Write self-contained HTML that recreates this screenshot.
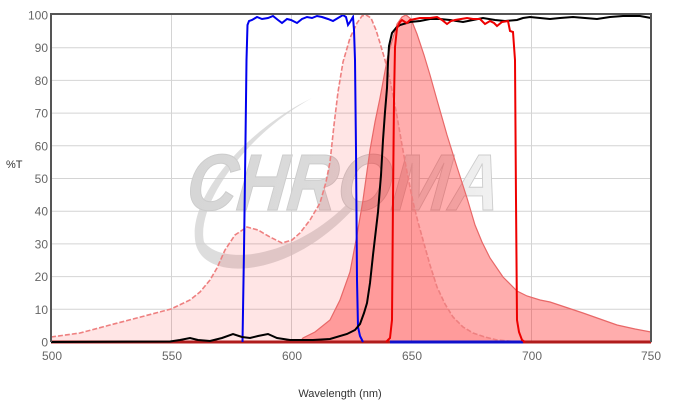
<!DOCTYPE html>
<html><head><meta charset="utf-8"><style>
html,body{margin:0;padding:0;background:#fff;}
svg{display:block;font-family:"Liberation Sans",Arial,sans-serif;}
</style></head><body>
<svg width="673" height="403" viewBox="0 0 673 403" xmlns="http://www.w3.org/2000/svg">
<defs>
<linearGradient id="wm" x1="0" y1="0" x2="1" y2="0">
<stop offset="0" stop-color="#d6d6d6"/><stop offset="0.5" stop-color="#dcdcdc"/><stop offset="1" stop-color="#f2f2f2"/>
</linearGradient>
</defs>
<rect width="673" height="403" fill="#fff"/>
<!-- grid -->
<g stroke="#d4d4d4" stroke-width="1">
<line x1="51" y1="47.7" x2="651" y2="47.7"/><line x1="51" y1="80.4" x2="651" y2="80.4"/>
<line x1="51" y1="113.1" x2="651" y2="113.1"/><line x1="51" y1="145.8" x2="651" y2="145.8"/>
<line x1="51" y1="178.5" x2="651" y2="178.5"/><line x1="51" y1="211.2" x2="651" y2="211.2"/>
<line x1="51" y1="243.9" x2="651" y2="243.9"/><line x1="51" y1="276.6" x2="651" y2="276.6"/>
<line x1="51" y1="309.3" x2="651" y2="309.3"/>
<line x1="171.5" y1="15" x2="171.5" y2="342"/><line x1="291.5" y1="15" x2="291.5" y2="342"/>
<line x1="411.5" y1="15" x2="411.5" y2="342"/><line x1="531.5" y1="15" x2="531.5" y2="342"/>
</g>
<!-- watermark -->
<path d="M312,98 C245,130 185,200 196,245 C206,282 290,280 356,206 L346,205 C292,258 222,266 204,242 C196,205 245,135 312,98 Z" fill="#cfcfcf" fill-opacity="0.7"/>
<text x="185" y="210" font-size="80" font-weight="bold" font-style="italic" textLength="313" lengthAdjust="spacingAndGlyphs" fill="url(#wm)" stroke="#cccccc" stroke-width="1" transform="skewX(-6) translate(22,0)">CHROMA</text>
<!-- excitation fill -->
<path d="M51,337 L80,333 L110,325 L133,319 L171,309 L190,300 L200,292 L210,280 L217,268 L225,250 L235,235 L247,227 L258,230 L270,237 L282,243 L292,240 L300,233 L310,220 L320,203 L326,182 L330,162 L334,125 L338,92 L343,62 L350,38 L357,23 L362,16 L366,15 L371,18 L376,30 L380,43 L385,60 L390,80 L397,116 L402,145 L407,172 L413,202 L418,222 L423,240 L430,265 L437,287 L445,304 L453,317 L463,327 L473,333 L485,337 L497,340 L520,342 L51,342 Z" fill="rgba(255,0,0,0.1)"/>
<!-- emission fill -->
<path d="M300,342 L303,338 L315,332 L330,320 L340,300 L350,272 L357,235 L363,200 L370,150 L375,122 L380,98 L388,55 L397,24 L402,17 L406,15 L411,19 L417,34 L424,55 L430,75 L437,100 L447,135 L457,167 L467,198 L475,225 L482,242 L490,258 L503,277 L517,291 L527,296 L540,300 L550,302 L565,307 L583,313 L600,319 L617,325 L635,329 L651,332 L651,342 Z" fill="rgba(255,0,0,0.32)" stroke="#e86868" stroke-width="1.2"/>
<!-- excitation outline dashed -->
<path d="M51,337 L80,333 L110,325 L133,319 L171,309 L190,300 L200,292 L210,280 L217,268 L225,250 L235,235 L247,227 L258,230 L270,237 L282,243 L292,240 L300,233 L310,220 L320,203 L326,182 L330,162 L334,125 L338,92 L343,62 L350,38 L357,23 L362,16 L366,15 L371,18 L376,30 L380,43 L385,60 L390,80 L397,116 L402,145 L407,172 L413,202 L418,222 L423,240 L430,265 L437,287 L445,304 L453,317 L463,327 L473,333 L485,337 L497,340 L520,342" fill="none" stroke="#ee8080" stroke-width="1.6" stroke-dasharray="5,2"/>
<!-- baseline -->
<line x1="51" y1="342" x2="651" y2="342" stroke="#b01c1c" stroke-width="3"/>
<line x1="390" y1="342" x2="523" y2="342" stroke="#1010cc" stroke-width="3"/>
<!-- blue filter -->
<path d="M242.5,342 L244,250 L245.5,140 L246.5,60 L247.5,25 L249,21 L252,20 L257,17 L262,19 L268,18 L273,16 L278,20 L282,23 L287,19 L291,20 L297,23 L302,19 L307,17 L312,18 L317,16 L322,17 L328,19 L333,21 L338,18 L343,15 L346,17 L348,25 L350,22 L353,17 L354,30 L355,60 L356,150 L357,280 L358,327 L360,336 L363,342" fill="none" stroke="#0000ee" stroke-width="2"/>
<!-- black -->
<path d="M51,342 L170,341.5 L180,340 L190,338 L198,340 L210,341 L222,338 L233,334 L242,337 L250,338 L258,336 L268,334 L277,338 L290,340 L313,340 L330,339 L347,334 L355,330 L360,324 L364,313 L367,303 L370,283 L373,255 L378,212 L381,175 L383,140 L385,112 L387,88 L388,62 L389,46 L392,33 L396,28 L400,25 L410,22 L420,21 L430,19 L440,19 L450,20 L463,22 L473,20 L483,18 L495,20 L505,21 L517,20 L523,18 L530,17 L540,18 L550,19 L560,18 L573,17 L585,18 L597,19 L610,17 L623,16 L640,16 L651,18" fill="none" stroke="#000" stroke-width="2"/>
<!-- red filter -->
<path d="M386,342 L390,338 L392,320 L393,200 L394,100 L395,47 L397,28 L400,22 L402,20 L405,22 L407,23 L410,20 L415,19 L420,18 L425,18 L430,18 L437,17 L442,20 L447,24 L451,21 L455,20 L461,19 L467,18 L473,19 L480,19 L485,24 L490,21 L494,23 L497,26 L502,22 L508,21 L510,31 L513,32 L515,60 L516,200 L517,320 L519,332 L522,340 L525,342" fill="none" stroke="#ee0000" stroke-width="2"/>
<!-- plot border -->
<path d="M51,342 L51,14 L651,14 L651,342" fill="none" stroke="#555" stroke-width="2"/>
<!-- y labels -->
<g font-size="12" fill="#666" text-anchor="end">
<text x="48" y="19.5">100</text><text x="48" y="52.2">90</text><text x="48" y="84.9">80</text>
<text x="48" y="117.6">70</text><text x="48" y="150.3">60</text><text x="48" y="183">50</text>
<text x="48" y="215.7">40</text><text x="48" y="248.4">30</text><text x="48" y="281.1">20</text>
<text x="48" y="313.8">10</text><text x="48" y="346.5">0</text>
</g>
<!-- x labels -->
<g font-size="12" fill="#666" text-anchor="middle">
<text x="52" y="360">500</text><text x="172" y="360">550</text><text x="292" y="360">600</text>
<text x="412" y="360">650</text><text x="532" y="360">700</text><text x="651" y="360">750</text>
</g>
<text x="6" y="168" font-size="11" fill="#333">%T</text>
<text x="340" y="397" font-size="11" fill="#333" text-anchor="middle">Wavelength (nm)</text>
</svg>
</body></html>
